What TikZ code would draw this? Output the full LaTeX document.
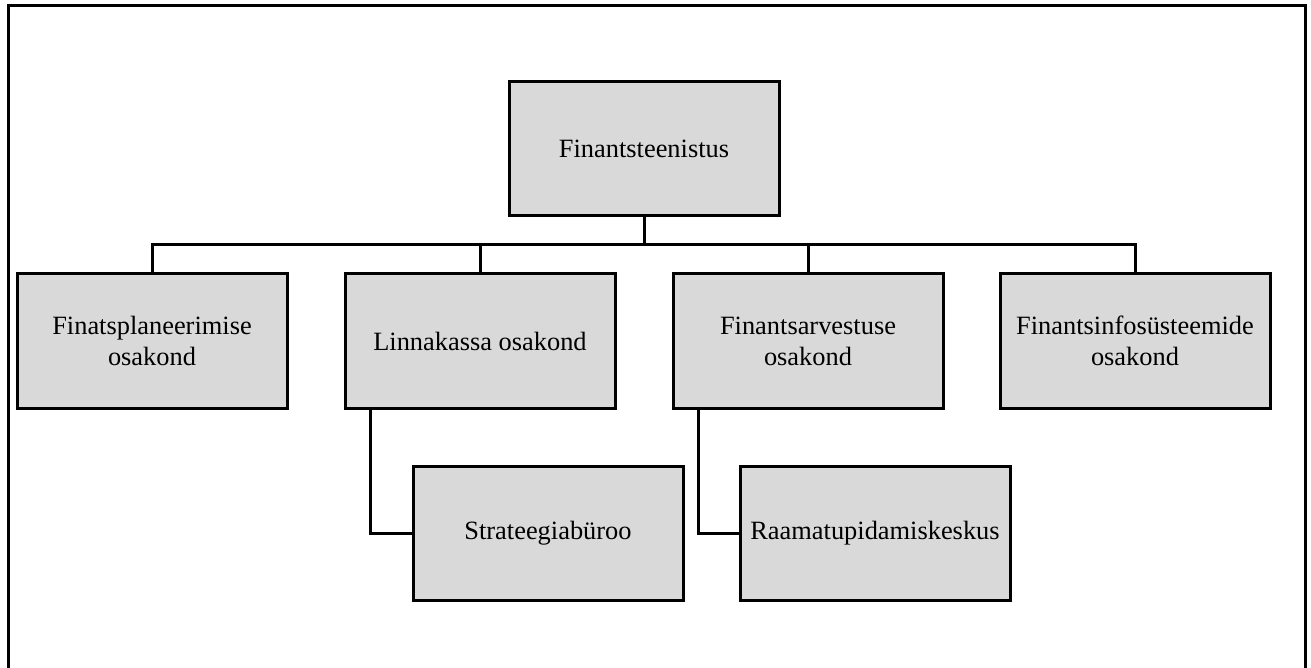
\documentclass[tikz,border=0pt]{standalone}
\usepackage{fontspec}
\setmainfont{Liberation Serif}
\begin{document}
\begin{tikzpicture}[x=1pt,y=-1pt,
  unit/.style={draw=black, line width=3pt, fill=boxgray, minimum width=270pt,
    minimum height=134pt, align=center, inner sep=4pt,
    font=\fontsize{26.4}{31}\selectfont},
  link/.style={draw=black, line width=3pt},
  frame/.style={draw=black, line width=3pt}]
\definecolor{boxgray}{HTML}{D9D9D9}
\useasboundingbox (0,0) rectangle (1311,668);
% outer frame (open at the bottom)
\draw[frame] (8,675) -- (8,6) -- (1305,6) -- (1305,675);

% head of the service
\node[unit] (top) at (644,149) {Finantsteenistus};

% departments
\node[unit] (d1) at (152,341) {Finatsplaneerimise\\osakond};
\node[unit] (d2) at (480,341) {Linnakassa osakond};
\node[unit] (d3) at (808,341) {Finantsarvestuse\\osakond};
\node[unit] (d4) at (1135,341) {Finantsinfosüsteemide\\osakond};

% sub-units
\node[unit] (s1) at (548,533) {Strateegiabüroo};
\node[unit] (s2) at (875,533) {Raamatupidamiskeskus};

% bus between head and departments
\coordinate (bus) at (644,245);
\draw[link] (top.south) -- (top.south |- bus);
\draw[link] (d1.north) -- (d1.north |- bus) -- (d4.north |- bus) -- (d4.north);
\draw[link] (d2.north) -- (d2.north |- bus);
\draw[link] (d3.north) -- (d3.north |- bus);

% sub-unit links
\draw[link] ([xshift=27pt]d2.south west) |- (s1.west);
\draw[link] ([xshift=27pt]d3.south west) |- (s2.west);
\end{tikzpicture}
\end{document}
